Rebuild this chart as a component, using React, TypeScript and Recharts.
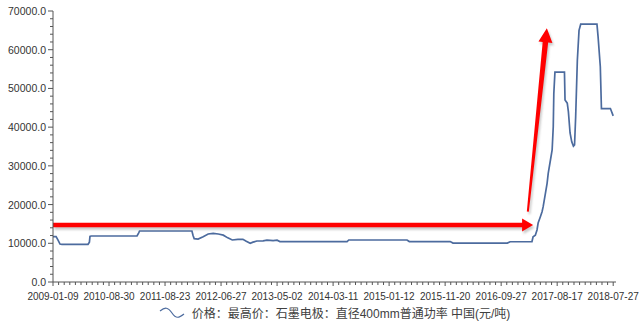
import React from 'react';
import { LineChart, Line, XAxis, YAxis, ReferenceLine, Legend } from 'recharts';

const tickLabels = [
  '2009-01-09', '2010-08-30', '2011-08-23', '2012-06-27', '2013-05-02', '2014-03-11',
  '2015-01-12', '2015-11-20', '2016-09-27', '2017-08-17', '2018-07-27',
];

// position of each observation along the category axis (one unit = one minor tick)
const positions = [
  0, 0.55, 0.9, 1.25, 1.6, 6.25, 6.5, 6.6, 6.8, 15, 15.3, 15.45, 24.8, 25, 25.2, 25.9, 26.8,
  27.7, 28.6, 29.5, 30.4, 31.2, 32, 33, 33.9, 34.5, 35.2, 35.7, 36.4, 37.5, 38.2, 39.3, 40,
  40.5, 52.5, 52.8, 63.2, 63.6, 70.9, 71.4, 81.1, 81.6, 85.5, 85.7, 86.1, 86.4, 86.6, 87,
  87.3, 87.5, 87.9, 88.2, 88.4, 88.8, 89.1, 89.3, 89.4, 89.6, 91.3, 91.4, 91.8, 92, 92.3,
  92.6, 92.9, 93.1, 93.3, 93.6, 93.9, 94.2, 97.1, 97.3, 97.7, 97.9, 99.5, 100,
];

const prices = [
  11700, 11700, 10800, 9800, 9740, 9740, 10300, 11800, 11880, 11880, 12700, 13170, 13170,
  12000, 11200, 11100, 11700, 12400, 12580, 12400, 12100, 11400, 10850, 11000, 11030, 10500,
  10000, 10300, 10590, 10620, 10800, 10700, 10800, 10450, 10450, 10850, 10850, 10450, 10450,
  10050, 10050, 10400, 10450, 11700, 12100, 13430, 15240, 16870, 18160, 19450, 22900, 25500,
  28080, 31510, 34100, 40100, 48700, 54200, 54200, 47000, 46200, 44000, 38500, 36200, 35100,
  35400, 42700, 57300, 65000, 66600, 66600, 63400, 55600, 44800, 44800, 42900,
];

const seriesName = '价格：最高价：石墨电极：直径400mm普通功率 中国(元/吨)';

// annotation arrows (data coordinates)
const flatArrow = { from: { x: 0, y: 14700 }, to: { x: 85.7, y: 14700 } };
const riseArrow = { from: { x: 84.76, y: 18160 }, to: { x: 88.16, y: 65530 } };

const yTicks = [
  0, 2000, 4000, 6000, 8000, 10000, 12000, 14000, 16000, 18000, 20000, 22000, 24000, 26000,
  28000, 30000, 32000, 34000, 36000, 38000, 40000, 42000, 44000, 46000, 48000, 50000, 52000,
  54000, 56000, 58000, 60000, 62000, 64000, 66000, 68000, 70000,
];
const xTicks = Array.from({ length: 101 }, (_, i) => i);

const data = positions.map((p, i) => ({ i: p, v: prices[i] }));

const AXIS = '#555';
const TEXT = '#333';
const LINE = '#4c6b9e';
const FONT = '"Liberation Sans", Arial, "Noto Sans CJK SC", sans-serif';

const YTick = (props: any) => {
  const { x, y, payload } = props;
  const major = payload.value % 10000 === 0;
  return (
    <g>
      <line x1={x - (major ? 5 : 3)} x2={x} y1={y} y2={y} stroke={AXIS} strokeWidth={1} />
      {major && (
        <text x={x - 7} y={y + 4} textAnchor="end" fontSize={10.5} fill={TEXT} fontFamily={FONT}>
          {payload.value.toFixed(1)}
        </text>
      )}
    </g>
  );
};

const XTick = (props: any) => {
  const { x, y, payload } = props;
  const major = payload.value % 10 === 0;
  return (
    <g>
      <line x1={x} x2={x} y1={y} y2={y + (major ? 4 : 3)} stroke={AXIS} strokeWidth={1} />
      {major && (
        <text x={x} y={y + 18} textAnchor="middle" fontSize={10} fill={TEXT} fontFamily={FONT}>
          {tickLabels[payload.value / 10]}
        </text>
      )}
    </g>
  );
};

function arrowPoints(x1: number, y1: number, x2: number, y2: number, w0: number, w1: number, headLen: number, headHalf: number) {
  const dx = x2 - x1;
  const dy = y2 - y1;
  const L = Math.hypot(dx, dy) || 1;
  const ux = dx / L;
  const uy = dy / L;
  const nx = -uy;
  const ny = ux;
  const bx = x2 - ux * headLen;
  const by = y2 - uy * headLen;
  const pts = [
    [x1 + nx * w0 / 2, y1 + ny * w0 / 2],
    [bx + nx * w1 / 2, by + ny * w1 / 2],
    [bx + nx * headHalf, by + ny * headHalf],
    [x2, y2],
    [bx - nx * headHalf, by - ny * headHalf],
    [bx - nx * w1 / 2, by - ny * w1 / 2],
    [x1 - nx * w0 / 2, y1 - ny * w0 / 2],
  ];
  return pts.map((p) => `${p[0].toFixed(2)},${p[1].toFixed(2)}`).join(' ');
}

const makeArrowShape = (id: string, w0: number, w1: number, headLen: number, headHalf: number) => (props: any) => {
  const { x1, y1, x2, y2 } = props;
  if ([x1, y1, x2, y2].some((v) => typeof v !== 'number' || isNaN(v))) return <g />;
  const pts = arrowPoints(x1, y1, x2, y2, w0, w1, headLen, headHalf);
  return (
    <g>
      <defs>
        <filter id={id} x="-20%" y="-20%" width="140%" height="140%">
          <feGaussianBlur stdDeviation="1.2" />
        </filter>
      </defs>
      <polygon points={pts} fill="#888" opacity={0.45} transform="translate(1.5,2.5)" filter={`url(#${id})`} />
      <polygon points={pts} fill="#ff0000" />
    </g>
  );
};

const flatShape = makeArrowShape('shFlat', 4.5, 4.5, 11, 6.5);
const riseShape = makeArrowShape('shRise', 2, 5.5, 14, 7);

const LegendContent = () => (
  <div
    style={{
      display: 'flex',
      alignItems: 'center',
      justifyContent: 'center',
      height: 21,
      fontFamily: FONT,
      fontSize: 12,
      color: '#404040',
      whiteSpace: 'nowrap',
    }}
  >
    <svg width={26} height={12} style={{ marginRight: 7 }}>
      <path d="M1,4 C6,0 9,0 13,6 C17,12 20,11 25,7" fill="none" stroke={LINE} strokeWidth={1.2} />
    </svg>
    <span>{seriesName}</span>
  </div>
);

export default function App() {
  return (
    <div style={{ position: 'absolute', left: 0, top: 0, width: 640, height: 323, background: '#fff' }}>
      <LineChart width={640} height={323} data={data} margin={{ top: 11, right: 24, left: 3, bottom: 0 }}>
        <XAxis
          dataKey="i"
          type="number"
          domain={[0, 100.5]}
          ticks={xTicks}
          interval={0}
          tick={XTick}
          tickLine={false}
          tickSize={0}
          tickMargin={0}
          height={20}
          axisLine={{ stroke: AXIS }}
          allowDataOverflow
        />
        <YAxis
          type="number"
          domain={[0, 70000]}
          ticks={yTicks}
          interval={0}
          tick={YTick}
          tickLine={false}
          tickSize={0}
          tickMargin={0}
          width={50}
          axisLine={{ stroke: AXIS }}
        />
        <Line
          type="linear"
          dataKey="v"
          name={seriesName}
          stroke={LINE}
          strokeWidth={1.7}
          dot={false}
          isAnimationActive={false}
        />
        <ReferenceLine segment={[flatArrow.from, flatArrow.to]} shape={flatShape} ifOverflow="visible" />
        <ReferenceLine segment={[riseArrow.from, riseArrow.to]} shape={riseShape} ifOverflow="visible" />
        <Legend
          verticalAlign="bottom"
          content={LegendContent}
          wrapperStyle={{ left: 53, width: 563, bottom: 0, height: 21 }}
        />
      </LineChart>
    </div>
  );
}
